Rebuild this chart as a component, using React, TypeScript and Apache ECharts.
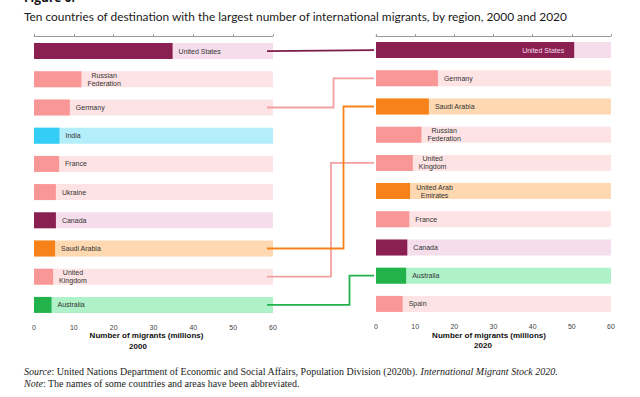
import React, { useEffect, useRef } from "react";
import * as echarts from "echarts";

// ---- data ----
const countries2000 = ["United States", "Russian Federation", "Germany", "India", "France", "Ukraine", "Canada", "Saudi Arabia", "United Kingdom", "Australia"];
const migrants2000 = [34.8, 11.9, 9.0, 6.4, 6.3, 5.5, 5.5, 5.3, 4.8, 4.4];
const region2000 = ["na", "eu", "eu", "asia", "eu", "eu", "na", "gulf", "eu", "oce"];

const countries2020 = ["United States", "Germany", "Saudi Arabia", "Russian Federation", "United Kingdom", "United Arab Emirates", "France", "Canada", "Australia", "Spain"];
const migrants2020 = [50.6, 15.8, 13.5, 11.6, 9.4, 8.7, 8.5, 8.0, 7.7, 6.8];
const region2020 = ["na", "eu", "gulf", "eu", "eu", "gulf", "eu", "na", "oce", "eu"];

const axisMax = 60;
const tickValues = [0, 10, 20, 30, 40, 50, 60];

const displayNames: Record<string, string> = {
  "Russian Federation": "Russian\nFederation",
  "United Kingdom": "United\nKingdom",
  "United Arab Emirates": "United Arab\nEmirates",
};

// connections between 2000 and 2020 (country, bend x)
const links = [
  { country: "United States", region: "na", bend: null as number | null },
  { country: "Germany", region: "eu", bend: 333.5 },
  { country: "United Kingdom", region: "eu", bend: 331 },
  { country: "Saudi Arabia", region: "gulf", bend: 343.5 },
  { country: "Australia", region: "oce", bend: 349.5 },
];

// ---- styles ----
const strong: Record<string, string> = {
  na: "#8a1f52",
  eu: "#f99797",
  asia: "#33cdf5",
  gulf: "#f8821a",
  oce: "#22b24c",
};
const light: Record<string, string> = {
  na: "#f6ddec",
  eu: "#fde3e3",
  asia: "#b3eefa",
  gulf: "#fdd8b0",
  oce: "#aff1c8",
};
const lineColor: Record<string, string> = {
  na: "#7d1b49",
  eu: "#f4a0a0",
  gulf: "#f8821a",
  oce: "#22b24c",
};

const FONT = '"Liberation Sans", Arial, sans-serif';
const LABEL_SIZE = 7;

function measure(text: string, font: string): number {
  const c = document.createElement("canvas").getContext("2d");
  if (!c) return text.length * 4;
  c.font = font;
  return c.measureText(text).width;
}

function buildData(names: string[], values: number[], regions: string[], insideFirst: boolean) {
  return values.map((v, i) => {
    const name = displayNames[names[i]] || names[i];
    const lines = name.split("\n");
    const w = Math.max(...lines.map((l) => measure(l, `${LABEL_SIZE}px ${FONT}`)));
    const inside = insideFirst && i === 0;
    const label: any = inside
      ? { show: true, position: "insideRight", distance: 10, color: "#f6dce9", formatter: name }
      : lines.length > 1
      ? { show: true, position: "right", distance: 6, align: "center", offset: [w / 2, 0], formatter: name }
      : { show: true, position: "right", distance: 6, formatter: name };
    return {
      value: v,
      itemStyle: { color: strong[regions[i]] },
      label,
    };
  });
}

export default function App() {
  const ref = useRef<HTMLDivElement>(null);

  useEffect(() => {
    if (!ref.current) return;
    const chart = echarts.init(ref.current, undefined, { renderer: "svg" });

    const topAxis = (gridIndex: number, offset: number) => ({
      type: "value",
      gridIndex,
      position: "top",
      min: 0,
      max: axisMax,
      interval: 10,
      offset,
      axisLine: { show: true, lineStyle: { color: "#9a9a9a", width: 1 } },
      axisTick: { show: true, length: 2, lineStyle: { color: "#9a9a9a" } },
      axisLabel: { show: false },
      splitLine: { show: false },
    });
    const bottomAxis = (gridIndex: number) => ({
      type: "value",
      gridIndex,
      position: "bottom",
      min: 0,
      max: axisMax,
      interval: 10,
      axisLine: { show: false },
      axisTick: { show: false },
      splitLine: { show: false },
      axisLabel: {
        show: true,
        margin: 5,
        fontSize: 7,
        fontFamily: FONT,
        color: "#444",
        customValues: tickValues,
      },
    });
    const catAxis = (gridIndex: number, data: string[]) => ({
      type: "category",
      gridIndex,
      data,
      inverse: true,
      show: false,
    });

    const labelBase = { fontSize: LABEL_SIZE, fontFamily: FONT, color: "#333", lineHeight: 8 };

    const option: any = {
      animation: false,
      backgroundColor: "#ffffff",
      grid: [
        { left: 34, top: 37, width: 239, height: 282 },
        { left: 376, top: 36, width: 235, height: 282 },
      ],
      xAxis: [topAxis(0, 1), bottomAxis(0), topAxis(1, 0), bottomAxis(1)],
      yAxis: [catAxis(0, countries2000), catAxis(1, countries2020)],
      series: [
        {
          type: "bar",
          xAxisIndex: 1,
          yAxisIndex: 0,
          barWidth: 16,
          barGap: "-100%",
          silent: true,
          data: region2000.map((r) => ({ value: axisMax, itemStyle: { color: light[r] } })),
        },
        {
          type: "bar",
          xAxisIndex: 1,
          yAxisIndex: 0,
          barWidth: 16,
          barGap: "-100%",
          label: labelBase,
          data: buildData(countries2000, migrants2000, region2000, false),
        },
        {
          type: "bar",
          xAxisIndex: 3,
          yAxisIndex: 1,
          barWidth: 16,
          barGap: "-100%",
          silent: true,
          data: region2020.map((r) => ({ value: axisMax, itemStyle: { color: light[r] } })),
        },
        {
          type: "bar",
          xAxisIndex: 3,
          yAxisIndex: 1,
          barWidth: 16,
          barGap: "-100%",
          label: labelBase,
          data: buildData(countries2020, migrants2020, region2020, true),
        },
      ],
      graphic: [],
    };
    chart.setOption(option);

    // connectors computed from the axes
    const leftStart = (chart.convertToPixel({ gridIndex: 0 } as any, [axisMax, 0]) as number[])[0] - 6;
    const rightEnd = (chart.convertToPixel({ gridIndex: 1 } as any, [0, 0]) as number[])[0] - 2;
    const connectors = links.map((l) => {
      const y0 = chart.convertToPixel({ yAxisIndex: 0 } as any, l.country) as number;
      const y1 = chart.convertToPixel({ yAxisIndex: 1 } as any, l.country) as number;
      const pts =
        l.bend == null
          ? [[leftStart, y0], [rightEnd, y1]]
          : [[leftStart, y0], [l.bend, y0], [l.bend, y1], [rightEnd, y1]];
      return {
        type: "polyline",
        z: 10,
        shape: { points: pts },
        style: { stroke: lineColor[l.region], lineWidth: 1.8, fill: null, lineJoin: "miter" },
        silent: true,
      };
    });

    const texts = [
      {
        type: "text",
        left: 24,
        top: -9,
        style: { text: "Figure 6.", font: `bold 12px "Open Sans", sans-serif`, fill: "#111" },
      },
      {
        type: "text",
        left: 24,
        top: 10,
        style: { text: "Ten countries of destination with the largest number of international migrants, by region, 2000 and 2020", font: `11.9px Lato, sans-serif`, fill: "#1a1a1a" },
      },
      {
        type: "text",
        x: 146.5,
        y: 335,
        style: { text: "Number of migrants (millions)", font: `bold 8px ${FONT}`, fill: "#111", align: "center", verticalAlign: "middle" },
      },
      {
        type: "text",
        x: 138,
        y: 346,
        style: { text: "2000", font: `bold 8px ${FONT}`, fill: "#111", align: "center", verticalAlign: "middle" },
      },
      {
        type: "text",
        x: 489,
        y: 335.5,
        style: { text: "Number of migrants (millions)", font: `bold 8px ${FONT}`, fill: "#111", align: "center", verticalAlign: "middle" },
      },
      {
        type: "text",
        x: 483,
        y: 345,
        style: { text: "2020", font: `bold 8px ${FONT}`, fill: "#111", align: "center", verticalAlign: "middle" },
      },
      {
        type: "text",
        x: 24,
        y: 377.5,
        style: {
          text: "{i|Source}: United Nations Department of Economic and Social Affairs, Population Division (2020b). {i|International Migrant Stock 2020.}\n{i|Note}: The names of some countries and areas have been abbreviated.",
          font: `10px "Liberation Serif", serif`,
          fill: "#222",
          verticalAlign: "middle",
          lineHeight: 12.5,
          rich: {
            i: { fontStyle: "italic", fontFamily: '"Liberation Serif", serif', fontSize: 10, fill: "#222", lineHeight: 12.5 },
          },
        },
      },
    ];

    chart.setOption({ graphic: [...connectors, ...texts] });

    return () => chart.dispose();
  }, []);

  return <div ref={ref} style={{ position: "fixed", left: 0, top: 0, width: 640, height: 397 }} />;
}
